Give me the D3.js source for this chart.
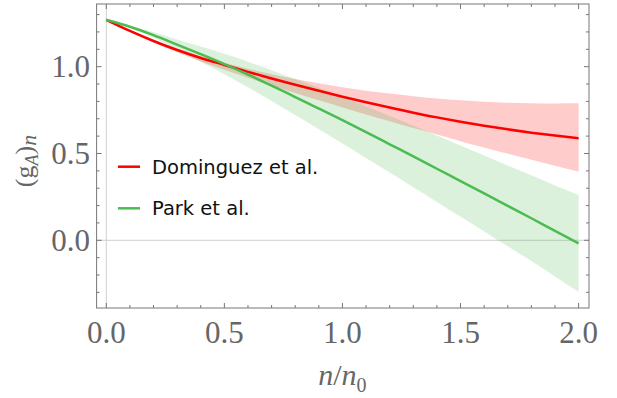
<!DOCTYPE html>
<html>
<head>
<meta charset="utf-8">
<script src="https://cdn.jsdelivr.net/npm/d3@7"></script>
<style>
  body { margin: 0; background: #fff; }
  svg { display: block; }
</style>
</head>
<body>
<div id="chart"></div>
<script>
// data
//- - - - - - - - - - - - - - - - - - - - - -
var nRatio = [0.0, 0.1, 0.2, 0.3, 0.4, 0.5, 0.6, 0.7, 0.8, 0.9, 1.0,
              1.1, 1.2, 1.3, 1.4, 1.5, 1.6, 1.7, 1.8, 1.9, 2.0];

var domMid   = [1.270, 1.206, 1.148, 1.096, 1.050, 1.010, 0.970, 0.932, 0.896, 0.861, 0.827,
                0.795, 0.765, 0.735, 0.708, 0.683, 0.660, 0.639, 0.620, 0.603, 0.588];
var domUpper = [1.270, 1.208, 1.153, 1.104, 1.061, 1.023, 0.988, 0.957, 0.929, 0.904, 0.882,
                0.862, 0.845, 0.830, 0.817, 0.806, 0.798, 0.792, 0.789, 0.788, 0.789];
var domLower = [1.270, 1.203, 1.141, 1.083, 1.030, 0.982, 0.936, 0.891, 0.848, 0.806, 0.765,
                0.725, 0.686, 0.647, 0.609, 0.571, 0.535, 0.499, 0.464, 0.429, 0.395];

var parkMid   = [1.270, 1.230, 1.182, 1.127, 1.072, 1.015, 0.955, 0.891, 0.825, 0.759, 0.692,
                 0.623, 0.553, 0.483, 0.412, 0.341, 0.270, 0.198, 0.127, 0.054, -0.018];
var parkUpper = [1.270, 1.236, 1.198, 1.156, 1.116, 1.074, 1.029, 0.980, 0.929, 0.878, 0.826,
                 0.772, 0.716, 0.660, 0.603, 0.546, 0.489, 0.431, 0.374, 0.316, 0.261];
var parkLower = [1.270, 1.224, 1.166, 1.098, 1.028, 0.956, 0.881, 0.802, 0.721, 0.640, 0.558,
                 0.474, 0.390, 0.306, 0.221, 0.136, 0.051, -0.035, -0.120, -0.208, -0.297];

var xTickLabels = ['0.0', '0.5', '1.0', '1.5', '2.0'];
var yTickLabels = ['0.0', '0.5', '1.0'];
var legendNames = ['Dominguez et al.', 'Park et al.'];

(function () {
  var W = 617, H = 398;
  var red = '#ff0000', green = '#4cbb52';
  var frameCol = '#777', labelCol = '#666';

  var svg = d3.select('#chart').append('svg')
    .attr('width', W).attr('height', H);

  var x = d3.scaleLinear().domain([-0.041, 2.044]).range([96.6, 589]);
  var y = d3.scaleLinear().domain([-0.39, 1.361]).range([308, 4]);

  // build rows for the band / line generators
  //- - - - - - - - - - - - - - - - - - - - - -
  var rows = function (mid, lo, hi) {
    return nRatio.map(function (n, i) {
      return { n: n, mid: mid[i], lo: lo[i], hi: hi[i] };
    });
  };
  var domRows = rows(domMid, domLower, domUpper);
  var parkRows = rows(parkMid, parkLower, parkUpper);

  var area = d3.area().curve(d3.curveMonotoneX)
    .x(function (d) { return x(d.n); })
    .y0(function (d) { return y(d.lo); })
    .y1(function (d) { return y(d.hi); });
  var line = d3.line().curve(d3.curveMonotoneX)
    .x(function (d) { return x(d.n); })
    .y(function (d) { return y(d.mid); });

  // axes through the origin
  svg.append('line')
    .attr('x1', x(0)).attr('x2', x(0)).attr('y1', y.range()[1]).attr('y2', y.range()[0])
    .attr('stroke', '#cfcfcf').attr('stroke-width', 1);
  svg.append('line')
    .attr('x1', x.range()[0]).attr('x2', x.range()[1]).attr('y1', y(0)).attr('y2', y(0))
    .attr('stroke', '#cfcfcf').attr('stroke-width', 1);

  // bands: red first, green on top
  svg.append('path').datum(domRows).attr('d', area)
    .attr('fill', red).attr('fill-opacity', 0.2);
  svg.append('path').datum(parkRows).attr('d', area)
    .attr('fill', green).attr('fill-opacity', 0.2);

  svg.append('path').datum(domRows).attr('d', line)
    .attr('fill', 'none').attr('stroke', red).attr('stroke-width', 2.5);
  svg.append('path').datum(parkRows).attr('d', line)
    .attr('fill', 'none').attr('stroke', green).attr('stroke-width', 2.5);

  // frame with inward ticks on all sides
  //- - - - - - - - - - - - - - - - - - - - - -
  var frame = svg.append('g');
  var x0 = x.range()[0], x1 = x.range()[1], yB = y.range()[0], yT = y.range()[1];

  var xTicks = d3.range(0, 21).map(function (i) { return i / 10; });
  var yTicks = d3.range(-3, 14).map(function (i) { return i / 10; });
  var isMajor = function (v) { return Math.abs(v * 2 - Math.round(v * 2)) < 1e-6; };

  xTicks.forEach(function (v) {
    var len = isMajor(v) ? 5 : 3;
    frame.append('line').attr('x1', x(v)).attr('x2', x(v)).attr('y1', yB).attr('y2', yB - len);
    frame.append('line').attr('x1', x(v)).attr('x2', x(v)).attr('y1', yT).attr('y2', yT + len);
  });
  yTicks.forEach(function (v) {
    var len = isMajor(v) ? 5 : 3;
    frame.append('line').attr('x1', x0).attr('x2', x0 + len).attr('y1', y(v)).attr('y2', y(v));
    frame.append('line').attr('x1', x1).attr('x2', x1 - len).attr('y1', y(v)).attr('y2', y(v));
  });
  frame.append('rect')
    .attr('x', x0).attr('y', yT).attr('width', x1 - x0).attr('height', yB - yT)
    .attr('fill', 'none');
  frame.selectAll('line, rect').attr('stroke', frameCol).attr('stroke-width', 1);

  // tick labels
  var serif = '"Liberation Serif", "Times New Roman", serif';
  svg.selectAll('.xl').data(xTickLabels).enter().append('text')
    .attr('x', function (d) { return x(+d); }).attr('y', 342.5)
    .attr('text-anchor', 'middle')
    .style('font-family', serif).style('font-size', '31px').attr('fill', labelCol)
    .text(function (d) { return d; });
  svg.selectAll('.yl').data(yTickLabels).enter().append('text')
    .attr('x', 90).attr('y', function (d) { return y(+d); }).attr('dy', '0.34em')
    .attr('text-anchor', 'end')
    .style('font-family', serif).style('font-size', '31px').attr('fill', labelCol)
    .text(function (d) { return d; });

  // axis titles
  //- - - - - - - - - - - - - - - - - - - - - -
  var xt = svg.append('text')
    .attr('x', x(1.0)).attr('y', 385).attr('text-anchor', 'middle')
    .style('font-family', serif).style('font-size', '30px').attr('fill', labelCol);
  xt.append('tspan').style('font-style', 'italic').text('n');
  xt.append('tspan').text('/');
  xt.append('tspan').style('font-style', 'italic').text('n');
  xt.append('tspan').attr('dy', 7).style('font-size', '20px').text('0');

  var yt = svg.append('text')
    .attr('transform', 'translate(33,161) rotate(-90)').attr('text-anchor', 'middle')
    .style('font-family', serif).style('font-size', '26px').attr('fill', labelCol);
  yt.append('tspan').text('(g');
  yt.append('tspan').attr('dy', 5).style('font-size', '18px').style('font-style', 'italic').text('A');
  yt.append('tspan').attr('dy', -5).text(')');
  yt.append('tspan').attr('dy', 3).style('font-size', '22px').style('font-style', 'italic').text('n');

  // legend
  var legend = svg.append('g');
  var colors = [red, green];
  var legY = [166.7, 208.3];
  legendNames.forEach(function (name, i) {
    legend.append('line')
      .attr('x1', 118).attr('x2', 140).attr('y1', legY[i]).attr('y2', legY[i])
      .attr('stroke', colors[i]).attr('stroke-width', 2.5);
    legend.append('text')
      .attr('x', 152).attr('y', legY[i]).attr('dy', '0.36em')
      .style('font-family', '"DejaVu Sans", sans-serif').style('font-size', '19.5px')
      .attr('fill', '#111').text(name);
  });
})();
</script>
</body>
</html>
